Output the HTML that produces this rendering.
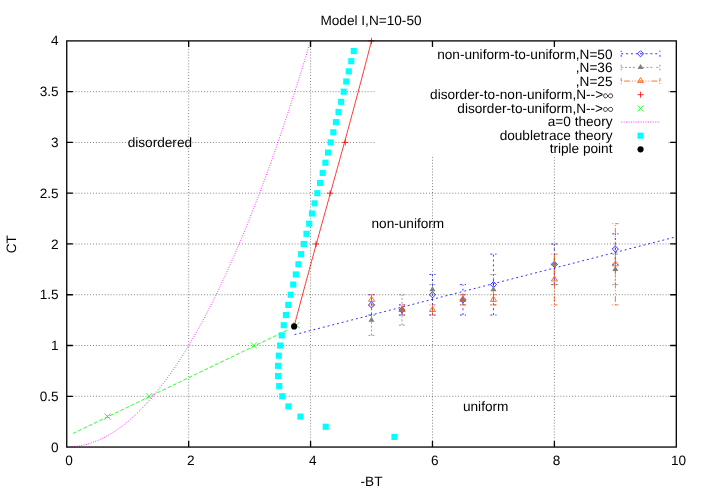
<!DOCTYPE html>
<html><head><meta charset="utf-8"><title>Model I,N=10-50</title>
<style>html,body{margin:0;padding:0;background:#fff;overflow:hidden}body{width:701px;height:491px;position:relative;font-family:"Liberation Sans",sans-serif}svg{will-change:transform;opacity:.999}svg text{font-family:"Liberation Sans",sans-serif;text-rendering:geometricPrecision}</style></head>
<body>
<svg width="701" height="491" viewBox="0 0 701 491" style="position:absolute;left:0;top:0;font-family:'Liberation Sans',sans-serif;font-size:13.63px" fill="#000">
<rect width="701" height="491" fill="#fff"/>
<g stroke="#000" stroke-width="0.50" stroke-dasharray="0.974,1.947" fill="none">
<path d="M188.66 447.05V40.90"/>
<path d="M310.57 447.05V40.90"/>
<path d="M432.48 447.05V40.90"/>
<path d="M554.39 447.05V40.90"/>
<path d="M66.75 396.28H676.30"/>
<path d="M66.75 345.51H676.30"/>
<path d="M66.75 294.74H676.30"/>
<path d="M66.75 243.97H676.30"/>
<path d="M66.75 193.21H676.30"/>
<path d="M66.75 142.44H676.30"/>
<path d="M66.75 91.67H676.30"/>
</g>
<rect x="375" y="40.90" width="292.90" height="115.30" fill="#fff"/>
<text x="612.50" y="58.60" text-anchor="end">non-uniform-to-uniform,N=50</text>
<path d="M621.20 53.75H659.90 M621.20 56.82v-6.13 M659.90 56.82v-6.13" stroke="#0000ff" stroke-width="0.80" stroke-dasharray="1.947,2.921" fill="none"/>
<g stroke="#0000ff" stroke-width="0.80" stroke-dasharray="1.947,2.921" fill="none">
<path d="M371.52 315.05V294.74 M368.46 315.05h6.13 M368.46 294.74h6.13"/>
<path d="M402.00 315.05V304.90 M398.94 315.05h6.13 M398.94 304.90h6.13"/>
<path d="M432.48 315.05V274.44 M429.41 315.05h6.13 M429.41 274.44h6.13"/>
<path d="M462.96 315.05V284.59 M459.89 315.05h6.13 M459.89 284.59h6.13"/>
<path d="M493.44 315.05V254.13 M490.37 315.05h6.13 M490.37 254.13h6.13"/>
<path d="M554.39 284.59V243.97 M551.32 284.59h6.13 M551.32 243.97h6.13"/>
<path d="M615.35 264.28V233.82 M612.28 264.28h6.13 M612.28 233.82h6.13"/>
</g>
<path d="M371.52 301.83l-3.07 3.07l3.07 3.07l3.07 -3.07z" stroke="#0000ff" stroke-width="0.80" fill="none"/><circle cx="371.52" cy="304.90" r="0.50" fill="#0000ff"/>
<path d="M402.00 306.91l-3.07 3.07l3.07 3.07l3.07 -3.07z" stroke="#0000ff" stroke-width="0.80" fill="none"/><circle cx="402.00" cy="309.97" r="0.50" fill="#0000ff"/>
<path d="M432.48 291.68l-3.07 3.07l3.07 3.07l3.07 -3.07z" stroke="#0000ff" stroke-width="0.80" fill="none"/><circle cx="432.48" cy="294.74" r="0.50" fill="#0000ff"/>
<path d="M462.96 296.75l-3.07 3.07l3.07 3.07l3.07 -3.07z" stroke="#0000ff" stroke-width="0.80" fill="none"/><circle cx="462.96" cy="299.82" r="0.50" fill="#0000ff"/>
<path d="M493.44 281.52l-3.07 3.07l3.07 3.07l3.07 -3.07z" stroke="#0000ff" stroke-width="0.80" fill="none"/><circle cx="493.44" cy="284.59" r="0.50" fill="#0000ff"/>
<path d="M554.39 261.22l-3.07 3.07l3.07 3.07l3.07 -3.07z" stroke="#0000ff" stroke-width="0.80" fill="none"/><circle cx="554.39" cy="264.28" r="0.50" fill="#0000ff"/>
<path d="M615.35 245.98l-3.07 3.07l3.07 3.07l3.07 -3.07z" stroke="#0000ff" stroke-width="0.80" fill="none"/><circle cx="615.35" cy="249.05" r="0.50" fill="#0000ff"/>
<path d="M640.55 50.68l-3.07 3.07l3.07 3.07l3.07 -3.07z" stroke="#0000ff" stroke-width="0.80" fill="none"/><circle cx="640.55" cy="53.75" r="0.50" fill="#0000ff"/>
<text x="612.50" y="72.15" text-anchor="end">,N=36</text>
<path d="M621.20 67.41H659.90 M621.20 70.48v-6.13 M659.90 70.48v-6.13" stroke="#808080" stroke-width="0.80" stroke-dasharray="1.947,1.947,1.947,1.947,1.947,1.947,1.947,3.894" fill="none"/>
<g stroke="#808080" stroke-width="0.80" stroke-dasharray="1.947,1.947,1.947,1.947,1.947,1.947,1.947,3.894" fill="none">
<path d="M371.52 335.36V304.90 M368.46 335.36h6.13 M368.46 304.90h6.13"/>
<path d="M402.00 325.20V294.74 M398.94 325.20h6.13 M398.94 294.74h6.13"/>
<path d="M432.48 294.74V284.59 M429.41 294.74h6.13 M429.41 284.59h6.13"/>
<path d="M462.96 304.90V294.74 M459.89 304.90h6.13 M459.89 294.74h6.13"/>
<path d="M493.44 304.90V274.44 M490.37 304.90h6.13 M490.37 274.44h6.13"/>
<path d="M554.39 284.59V243.97 M551.32 284.59h6.13 M551.32 243.97h6.13"/>
<path d="M615.35 284.59V254.13 M612.28 284.59h6.13 M612.28 254.13h6.13"/>
</g>
<path d="M371.52 316.69l-3.07 4.97h6.13z" fill="#808080"/>
<path d="M402.00 306.54l-3.07 4.97h6.13z" fill="#808080"/>
<path d="M432.48 286.23l-3.07 4.97h6.13z" fill="#808080"/>
<path d="M462.96 296.39l-3.07 4.97h6.13z" fill="#808080"/>
<path d="M493.44 286.23l-3.07 4.97h6.13z" fill="#808080"/>
<path d="M554.39 260.85l-3.07 4.97h6.13z" fill="#808080"/>
<path d="M615.35 265.92l-3.07 4.97h6.13z" fill="#808080"/>
<path d="M640.55 63.98l-3.07 4.97h6.13z" fill="#808080"/>
<text x="612.50" y="85.70" text-anchor="end">,N=25</text>
<path d="M621.20 81.07H659.90 M621.20 84.14v-6.13 M659.90 84.14v-6.13" stroke="#ff4d00" stroke-width="0.80" stroke-dasharray="0.974,1.947,5.842,1.947,0.974,1.947" fill="none"/>
<g stroke="#ff4d00" stroke-width="0.80" stroke-dasharray="0.974,1.947,5.842,1.947,0.974,1.947" fill="none">
<path d="M371.52 304.90V294.74 M368.46 304.90h6.13 M368.46 294.74h6.13"/>
<path d="M402.00 315.05V304.90 M398.94 315.05h6.13 M398.94 304.90h6.13"/>
<path d="M432.48 315.05V304.90 M429.41 315.05h6.13 M429.41 304.90h6.13"/>
<path d="M462.96 304.90V294.74 M459.89 304.90h6.13 M459.89 294.74h6.13"/>
<path d="M493.44 304.90V294.74 M490.37 304.90h6.13 M490.37 294.74h6.13"/>
<path d="M554.39 304.90V254.13 M551.32 304.90h6.13 M551.32 254.13h6.13"/>
<path d="M615.35 304.90V223.67 M612.28 304.90h6.13 M612.28 223.67h6.13"/>
</g>
<path d="M371.52 296.39l-3.07 4.97h6.13z" stroke="#ff4d00" stroke-width="0.80" fill="none"/><circle cx="371.52" cy="299.82" r="0.50" fill="#ff4d00"/>
<path d="M402.00 306.54l-3.07 4.97h6.13z" stroke="#ff4d00" stroke-width="0.80" fill="none"/><circle cx="402.00" cy="309.97" r="0.50" fill="#ff4d00"/>
<path d="M432.48 306.54l-3.07 4.97h6.13z" stroke="#ff4d00" stroke-width="0.80" fill="none"/><circle cx="432.48" cy="309.97" r="0.50" fill="#ff4d00"/>
<path d="M462.96 296.39l-3.07 4.97h6.13z" stroke="#ff4d00" stroke-width="0.80" fill="none"/><circle cx="462.96" cy="299.82" r="0.50" fill="#ff4d00"/>
<path d="M493.44 296.39l-3.07 4.97h6.13z" stroke="#ff4d00" stroke-width="0.80" fill="none"/><circle cx="493.44" cy="299.82" r="0.50" fill="#ff4d00"/>
<path d="M554.39 276.08l-3.07 4.97h6.13z" stroke="#ff4d00" stroke-width="0.80" fill="none"/><circle cx="554.39" cy="279.51" r="0.50" fill="#ff4d00"/>
<path d="M615.35 260.85l-3.07 4.97h6.13z" stroke="#ff4d00" stroke-width="0.80" fill="none"/><circle cx="615.35" cy="264.28" r="0.50" fill="#ff4d00"/>
<path d="M640.55 77.64l-3.07 4.97h6.13z" stroke="#ff4d00" stroke-width="0.80" fill="none"/><circle cx="640.55" cy="81.07" r="0.50" fill="#ff4d00"/>
<text x="603.10" y="99.25" text-anchor="end">disorder-to-non-uniform,N--&gt;</text>
<path d="M607.90 95.85C609.20 93.15 612.65 93.15 612.65 95.85C612.65 98.55 609.20 98.55 607.90 95.85C606.60 93.15 603.65 93.15 603.65 95.85C603.65 98.55 606.60 98.55 607.90 95.85Z" stroke="#000" stroke-width="0.8" fill="none"/>
<path d="M291.05 326.22h6.13M294.11 323.15v6.13" stroke="#ff0000" stroke-width="0.80" fill="none"/>
<path d="M312.99 243.97h6.13M316.06 240.91v6.13" stroke="#ff0000" stroke-width="0.80" fill="none"/>
<path d="M327.01 193.21h6.13M330.08 190.14v6.13" stroke="#ff0000" stroke-width="0.80" fill="none"/>
<path d="M342.25 142.44h6.13M345.31 139.37v6.13" stroke="#ff0000" stroke-width="0.80" fill="none"/>
<path d="M368.46 40.90h6.13M371.52 37.83v6.13" stroke="#ff0000" stroke-width="0.80" fill="none"/>
<path d="M637.48 94.73h6.13M640.55 91.66v6.13" stroke="#ff0000" stroke-width="0.80" fill="none"/>
<text x="603.10" y="112.80" text-anchor="end">disorder-to-uniform,N--&gt;</text>
<path d="M607.90 109.40C609.20 106.70 612.65 106.70 612.65 109.40C612.65 112.10 609.20 112.10 607.90 109.40C606.60 106.70 603.65 106.70 603.65 109.40C603.65 112.10 606.60 112.10 607.90 109.40Z" stroke="#000" stroke-width="0.8" fill="none"/>
<path d="M104.52 413.52l6.13 6.13M104.52 419.66l6.13 -6.13" stroke="#00ff00" stroke-width="0.80" fill="none"/>
<path d="M145.97 393.21l6.13 6.13M145.97 399.35l6.13 -6.13" stroke="#00ff00" stroke-width="0.80" fill="none"/>
<path d="M250.81 342.45l6.13 6.13M250.81 348.58l6.13 -6.13" stroke="#00ff00" stroke-width="0.80" fill="none"/>
<path d="M293.36 322.14l6.13 6.13M293.36 328.27l6.13 -6.13" stroke="#00ff00" stroke-width="0.80" fill="none"/>
<path d="M637.48 105.32l6.13 6.13M637.48 111.46l6.13 -6.13" stroke="#00ff00" stroke-width="0.80" fill="none"/>
<path d="M72.91 433.55L288.38 329.57" stroke="#00ff00" stroke-width="0.80" stroke-dasharray="3.894,1.947" fill="none"/>
<path d="M294.54 334.65L676.30 236.77" stroke="#0000ff" stroke-width="0.80" stroke-dasharray="1.947,2.921" fill="none"/>
<text x="612.50" y="126.35" text-anchor="end">a=0 theory</text>
<path d="M66.75 447.05 L72.91 446.79 L79.06 446.01 L85.22 444.72 L91.38 442.91 L97.54 440.58 L103.69 437.73 L109.85 434.36 L116.01 430.47 L122.16 426.07 L128.32 421.15 L134.48 415.71 L140.63 409.75 L146.79 403.28 L152.95 396.29 L159.11 388.78 L165.26 380.75 L171.42 372.20 L177.58 363.13 L183.73 353.55 L189.89 343.45 L196.05 332.83 L202.21 321.70 L208.36 310.04 L214.52 297.87 L220.68 285.18 L226.83 271.97 L232.99 258.24 L239.15 244.00 L245.31 229.23 L251.46 213.95 L257.62 198.15 L263.78 181.84 L269.93 165.00 L276.09 147.65 L282.25 129.78 L288.40 111.39 L294.56 92.48 L300.72 73.06 L306.88 53.11 L310.55 40.90" stroke="#ff00ff" stroke-width="0.80" stroke-dasharray="0.974,1.460" fill="none"/>
<path d="M621.20 122.05H659.90" stroke="#ff00ff" stroke-width="0.80" stroke-dasharray="0.974,1.460" fill="none"/>
<text x="612.50" y="139.90" text-anchor="end">doubletrace theory</text>
<rect x="391.37" y="433.83" width="6.13" height="6.13" fill="#00ffff"/>
<rect x="322.65" y="423.68" width="6.13" height="6.13" fill="#00ffff"/>
<rect x="297.39" y="413.52" width="6.13" height="6.13" fill="#00ffff"/>
<rect x="285.35" y="403.37" width="6.13" height="6.13" fill="#00ffff"/>
<rect x="279.19" y="393.21" width="6.13" height="6.13" fill="#00ffff"/>
<rect x="276.15" y="383.06" width="6.13" height="6.13" fill="#00ffff"/>
<rect x="274.96" y="372.91" width="6.13" height="6.13" fill="#00ffff"/>
<rect x="274.95" y="362.75" width="6.13" height="6.13" fill="#00ffff"/>
<rect x="275.72" y="352.60" width="6.13" height="6.13" fill="#00ffff"/>
<rect x="277.03" y="342.45" width="6.13" height="6.13" fill="#00ffff"/>
<rect x="278.72" y="332.29" width="6.13" height="6.13" fill="#00ffff"/>
<rect x="280.69" y="322.14" width="6.13" height="6.13" fill="#00ffff"/>
<rect x="282.87" y="311.98" width="6.13" height="6.13" fill="#00ffff"/>
<rect x="285.20" y="301.83" width="6.13" height="6.13" fill="#00ffff"/>
<rect x="287.65" y="291.68" width="6.13" height="6.13" fill="#00ffff"/>
<rect x="290.17" y="281.52" width="6.13" height="6.13" fill="#00ffff"/>
<rect x="292.76" y="271.37" width="6.13" height="6.13" fill="#00ffff"/>
<rect x="295.39" y="261.22" width="6.13" height="6.13" fill="#00ffff"/>
<rect x="298.06" y="251.06" width="6.13" height="6.13" fill="#00ffff"/>
<rect x="300.74" y="240.91" width="6.13" height="6.13" fill="#00ffff"/>
<rect x="303.44" y="230.75" width="6.13" height="6.13" fill="#00ffff"/>
<rect x="306.15" y="220.60" width="6.13" height="6.13" fill="#00ffff"/>
<rect x="308.86" y="210.45" width="6.13" height="6.13" fill="#00ffff"/>
<rect x="311.56" y="200.29" width="6.13" height="6.13" fill="#00ffff"/>
<rect x="314.27" y="190.14" width="6.13" height="6.13" fill="#00ffff"/>
<rect x="316.96" y="179.99" width="6.13" height="6.13" fill="#00ffff"/>
<rect x="319.65" y="169.83" width="6.13" height="6.13" fill="#00ffff"/>
<rect x="322.32" y="159.68" width="6.13" height="6.13" fill="#00ffff"/>
<rect x="324.98" y="149.52" width="6.13" height="6.13" fill="#00ffff"/>
<rect x="327.63" y="139.37" width="6.13" height="6.13" fill="#00ffff"/>
<rect x="330.26" y="129.22" width="6.13" height="6.13" fill="#00ffff"/>
<rect x="332.87" y="119.06" width="6.13" height="6.13" fill="#00ffff"/>
<rect x="335.48" y="108.91" width="6.13" height="6.13" fill="#00ffff"/>
<rect x="338.06" y="98.76" width="6.13" height="6.13" fill="#00ffff"/>
<rect x="340.63" y="88.60" width="6.13" height="6.13" fill="#00ffff"/>
<rect x="343.18" y="78.45" width="6.13" height="6.13" fill="#00ffff"/>
<rect x="345.72" y="68.29" width="6.13" height="6.13" fill="#00ffff"/>
<rect x="348.23" y="58.14" width="6.13" height="6.13" fill="#00ffff"/>
<rect x="350.73" y="47.99" width="6.13" height="6.13" fill="#00ffff"/>
<rect x="637.48" y="132.64" width="6.13" height="6.13" fill="#00ffff"/>
<path d="M294.11 326.22 L294.99 322.95 L295.85 319.72 L296.70 316.52 L297.55 313.36 L298.39 310.23 L299.22 307.13 L300.04 304.07 L300.85 301.05 L301.65 298.05 L302.45 295.08 L303.24 292.15 L304.02 289.24 L304.80 286.36 L305.57 283.51 L306.33 280.69 L307.09 277.89 L307.84 275.12 L308.59 272.37 L309.32 269.64 L310.06 266.94 L310.79 264.26 L311.51 261.60 L312.23 258.96 L312.95 256.34 L313.66 253.74 L314.37 251.15 L315.07 248.58 L315.77 246.03 L316.46 243.49 L317.16 240.97 L317.85 238.46 L318.54 235.96 L319.22 233.47 L319.91 230.99 L320.59 228.52 L321.27 226.06 L321.94 223.61 L322.62 221.17 L323.30 218.73 L323.97 216.29 L324.65 213.86 L325.32 211.43 L325.99 209.01 L326.67 206.58 L327.34 204.16 L328.02 201.73 L328.69 199.30 L329.37 196.87 L330.04 194.44 L330.72 192.00 L331.40 189.56 L332.09 187.10 L332.77 184.64 L333.46 182.18 L334.15 179.70 L334.84 177.21 L335.53 174.71 L336.23 172.19 L336.93 169.67 L337.64 167.12 L338.35 164.57 L339.06 161.99 L339.78 159.40 L340.50 156.79 L341.23 154.15 L341.96 151.50 L342.70 148.83 L343.44 146.13 L344.19 143.40 L344.95 140.66 L345.71 137.88 L346.48 135.08 L347.25 132.25 L348.03 129.39 L348.82 126.50 L349.62 123.57 L350.42 120.62 L351.23 117.63 L352.05 114.60 L352.88 111.54 L353.71 108.44 L354.56 105.30 L355.41 102.12 L356.28 98.91 L357.15 95.64 L358.03 92.34 L358.92 88.99 L359.82 85.60 L360.74 82.16 L361.66 78.67 L362.59 75.13 L363.54 71.55 L364.50 67.91 L365.46 64.22 L366.44 60.47 L367.43 56.67 L368.44 52.82 L369.45 48.90 L370.48 44.93 L371.52 40.90" stroke="#ff0000" stroke-width="0.80" fill="none"/>
<text x="612.50" y="153.45" text-anchor="end">triple point</text>
<circle cx="294.11" cy="326.42" r="3.07" fill="#000"/>
<circle cx="640.55" cy="149.37" r="3.07" fill="#000"/>
<g stroke="#000" stroke-width="1.30" fill="none">
<rect x="66.75" y="40.90" width="609.55" height="406.15"/>
<path d="M188.66 447.05v-6.13M188.66 40.90v6.13M310.57 447.05v-6.13M310.57 40.90v6.13M432.48 447.05v-6.13M432.48 40.90v6.13M554.39 447.05v-6.13M554.39 40.90v6.13M66.75 396.28h6.13M676.30 396.28h-6.13M66.75 345.51h6.13M676.30 345.51h-6.13M66.75 294.74h6.13M676.30 294.74h-6.13M66.75 243.97h6.13M676.30 243.97h-6.13M66.75 193.21h6.13M676.30 193.21h-6.13M66.75 142.44h6.13M676.30 142.44h-6.13M66.75 91.67h6.13M676.30 91.67h-6.13"/>
</g>
<text x="58.60" y="451.59" text-anchor="end">0</text>
<text x="58.60" y="400.82" text-anchor="end">0.5</text>
<text x="58.60" y="350.05" text-anchor="end">1</text>
<text x="58.60" y="299.28" text-anchor="end">1.5</text>
<text x="58.60" y="248.51" text-anchor="end">2</text>
<text x="58.60" y="197.75" text-anchor="end">2.5</text>
<text x="58.60" y="146.98" text-anchor="end">3</text>
<text x="58.60" y="96.21" text-anchor="end">3.5</text>
<text x="58.60" y="45.44" text-anchor="end">4</text>
<text x="68.95" y="465.30" text-anchor="middle">0</text>
<text x="190.86" y="465.30" text-anchor="middle">2</text>
<text x="312.77" y="465.30" text-anchor="middle">4</text>
<text x="434.68" y="465.30" text-anchor="middle">6</text>
<text x="556.59" y="465.30" text-anchor="middle">8</text>
<text x="678.50" y="465.30" text-anchor="middle">10</text>
<text x="127.70" y="146.98" text-anchor="start">disordered</text>
<text x="371.52" y="228.21" text-anchor="start">non-uniform</text>
<text x="462.96" y="410.98" text-anchor="start">uniform</text>
<text x="371.00" y="25.00" text-anchor="middle">Model I,N=10-50</text>
<text x="371.50" y="485.70" text-anchor="middle">-BT</text>
<text transform="translate(15.5,244.2) rotate(-90)" text-anchor="middle">CT</text>
</svg>
</body></html>
